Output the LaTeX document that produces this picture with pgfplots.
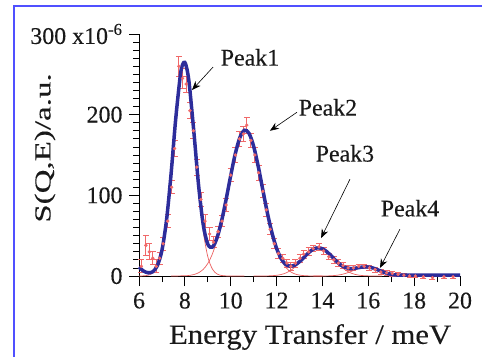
\documentclass[border=0pt]{standalone}
\usepackage{fontspec}
\setmainfont{Liberation Serif}[UprightFeatures={FakeBold=0.2}]
\usepackage{pgfplots}
\pgfplotsset{compat=1.18}
\usetikzlibrary{arrows.meta}
\definecolor{fitblue}{RGB}{45,45,155}
\definecolor{datred}{RGB}{240,105,105}
\definecolor{compred}{RGB}{235,95,95}
\definecolor{frameblue}{RGB}{80,80,255}
\definecolor{txt}{RGB}{25,25,25}
\pgfplotstableread{
x y e
6.10 12 8
6.30 38 12
6.45 30 10
6.60 22 8
6.75 12 8
6.90 22 7
7.05 40 8
7.25 68 8
7.42 110 8
7.55 158 10
7.74 260 12
7.90 245 12
8.06 238 10
8.22 205 10
8.37 180 10
8.52 135 10
8.70 95 9
8.88 68 8
9.08 52 8
9.25 42 7
9.45 55 7
9.62 68 7
9.80 88 8
10.00 125 8
10.20 150 9
10.38 170 9
10.55 176 9
10.70 187 10
10.88 168 9
11.05 150 9
11.22 128 9
11.40 105 8
11.55 82 8
11.72 58 7
11.90 40 6
12.08 28 6
12.27 22 5
12.45 16 5
12.62 12 5
12.82 16 5
13.02 22 5
13.18 27 5
13.40 30 5
13.60 34 4
13.85 36 4
14.05 31 4
14.28 24 4
14.50 20 4
14.70 16 4
14.90 13 4
15.12 10 3
15.35 10 3
15.58 12 3
15.82 12 3
16.05 10 3
16.30 8 3
16.55 5 3
16.80 4 3
17.05 3 3
17.30 2 2
17.55 1 2
17.80 0 2
18.05 0 2
18.40 -1 2
18.80 -2 2
19.30 -1 2
19.70 -1 2
}\datatable
\begin{document}
\begin{tikzpicture}[x=1bp,y=1bp]
\path[use as bounding box] (0,0) rectangle (482,356);
\draw[frameblue, line width=2bp] (14,-10) -- (14,350) -- (492,350);
\begin{axis}[at={(139bp,80bp)}, anchor=south west, scale only axis,
  width=321bp, height=242bp,
  xmin=6, xmax=20, ymin=0, ymax=300,
  axis lines=left, axis line style={-, line width=0.9bp, black},
  xtick={6,8,10,12,14,16,18,20}, xticklabels={6,8,10,12,14,16,18,20},
  minor xtick={7,9,11,13,15,17,19},
  ytick={0,100,200,300}, yticklabels={0,100,200,{300 x10\textsuperscript{-6}}},
  minor y tick num=9,
  tick align=outside, major tick length=10bp, minor tick length=6bp,
  every tick/.style={black, line width=0.8bp},
  ticklabel style={font=\fontsize{24}{28}\selectfont, text=txt},
  xticklabel style={yshift=-3bp},
  yticklabel style={xshift=-3bp},
  xlabel={\scalebox{1.1}[1]{Energy Transfer / meV}},
  xlabel style={at={(axis description cs:0.533,-0.252)}, anchor=center, font=\fontsize{28}{32}\selectfont, text=txt},
  ylabel={\scalebox{1.44}[1]{S(Q,E)/a.u.}},
  ylabel style={at={(axis description cs:-0.293,0.529)}, anchor=center, font=\fontsize{23}{26}\selectfont, text=txt},
  clip=false]
\addplot[datred, only marks, mark=*, mark size=1.5bp,
  error bars/.cd, y dir=both, y explicit,
  error bar style={datred, line width=0.8bp},
  error mark options={datred, rotate=90, mark size=3bp, line width=0.8bp}]
  table[x=x, y=y, y error=e] {\datatable};
\addplot[compred, line width=0.7bp, smooth] coordinates {
(6.0,0.04)(6.2,0.22)(6.4,1.0)(6.6,3.79)(6.8,11.96)(7.0,31.5)(7.2,69.2)(7.4,127.0)(7.6,194.4)(7.8,248.2)(7.9,262.1)(8.0,264.5)(8.1,255.1)(8.2,235.1)(8.4,174.4)(8.6,107.9)(8.8,55.7)(9.0,24.0)(9.2,8.63)(9.4,2.59)(9.6,0.65)(9.8,0.14)(10.0,0.02)(10.6,0)};
\addplot[compred, line width=0.7bp, smooth] coordinates {
(7.4,0)(8.0,0.31)(8.2,0.79)(8.4,1.85)(8.6,4.05)(8.8,8.22)(9.0,15.5)(9.2,27.3)(9.4,44.5)(9.6,67.4)(9.8,95.0)(10.0,124.5)(10.2,151.7)(10.4,171.7)(10.6,180.7)(10.8,176.8)(11.0,160.8)(11.2,135.9)(11.4,106.8)(11.6,78.0)(11.8,53.0)(12.0,33.4)(12.2,19.6)(12.4,10.7)(12.6,5.42)(12.8,2.56)(13.0,1.12)(13.2,0.46)(13.4,0.17)(13.6,0.06)(14.0,0)};
\addplot[compred, line width=0.7bp, smooth] coordinates {
(11.0,0)(11.6,0.14)(11.8,0.37)(12.0,0.87)(12.2,1.88)(12.4,3.70)(12.6,6.67)(12.8,10.99)(13.0,16.55)(13.2,22.8)(13.4,28.8)(13.6,33.2)(13.8,35.0)(14.0,33.8)(14.2,29.8)(14.4,24.1)(14.6,17.8)(14.8,12.0)(15.0,7.42)(15.2,4.20)(15.4,2.17)(15.6,1.03)(15.8,0.44)(16.0,0.18)(16.2,0.06)(16.6,0)};
\addplot[compred, line width=0.7bp, smooth] coordinates {
(13.6,0)(14.2,0.14)(14.4,0.35)(14.6,0.83)(14.8,1.71)(15.0,3.13)(15.2,5.09)(15.4,7.36)(15.6,9.45)(15.8,10.77)(16.0,10.90)(16.2,9.79)(16.4,7.81)(16.6,5.53)(16.8,3.48)(17.0,1.94)(17.2,0.96)(17.4,0.42)(17.6,0.17)(17.8,0.05)(18.2,0)};
\addplot[fitblue, line width=3.5bp, smooth] coordinates {
(6.0,11.0)(6.2,6.2)(6.4,4.0)(6.6,5.3)(6.8,12.8)(7.0,31.9)(7.2,69.2)(7.4,127.0)(7.6,194.4)(7.8,248.2)(7.9,262.1)(8.0,264.8)(8.1,255.3)(8.2,235.9)(8.4,176.3)(8.6,112.0)(8.8,63.9)(9.0,39.5)(9.2,35.9)(9.4,47.1)(9.6,68.1)(9.8,95.1)(10.0,124.5)(10.2,151.7)(10.4,171.7)(10.6,180.7)(10.8,176.8)(11.0,160.8)(11.2,135.9)(11.4,106.8)(11.6,78.1)(11.8,53.4)(12.0,34.3)(12.2,21.5)(12.4,14.4)(12.6,12.1)(12.8,13.6)(13.0,17.7)(13.2,23.3)(13.4,29.0)(13.6,33.3)(13.8,35.0)(14.0,33.8)(14.2,29.9)(14.4,24.5)(14.6,18.6)(14.8,13.7)(15.0,10.6)(15.2,9.3)(15.4,9.5)(15.6,10.5)(15.8,11.2)(16.0,11.1)(16.2,9.9)(16.4,7.8)(16.6,5.5)(16.8,3.5)(17.0,2.0)(17.2,1.3)(17.4,1.0)(17.6,1.0)(18.0,1.0)(19.0,1.0)(20.0,1.0)};
\node[font=\fontsize{24}{28}\selectfont, text=txt] at (axis cs:10.84,271) {Peak1};
\node[font=\fontsize{24}{28}\selectfont, text=txt] at (axis cs:14.24,209) {Peak2};
\node[font=\fontsize{24}{28}\selectfont, text=txt] at (axis cs:14.98,152) {Peak3};
\node[font=\fontsize{24}{28}\selectfont, text=txt] at (axis cs:17.82,84) {Peak4};
\draw[-{Stealth[length=9bp,width=7bp]}, line width=0.6bp] (axis cs:9.23,259) -- (axis cs:8.31,230.5);
\draw[-{Stealth[length=9bp,width=7bp]}, line width=0.6bp] (axis cs:12.89,203) -- (axis cs:11.71,180);
\draw[-{Stealth[length=9bp,width=7bp]}, line width=0.6bp] (axis cs:15.2,120) -- (axis cs:13.94,47);
\draw[-{Stealth[length=9bp,width=7bp]}, line width=0.6bp] (axis cs:17.38,58) -- (axis cs:16.51,10);
\end{axis}
\end{tikzpicture}
\end{document}
